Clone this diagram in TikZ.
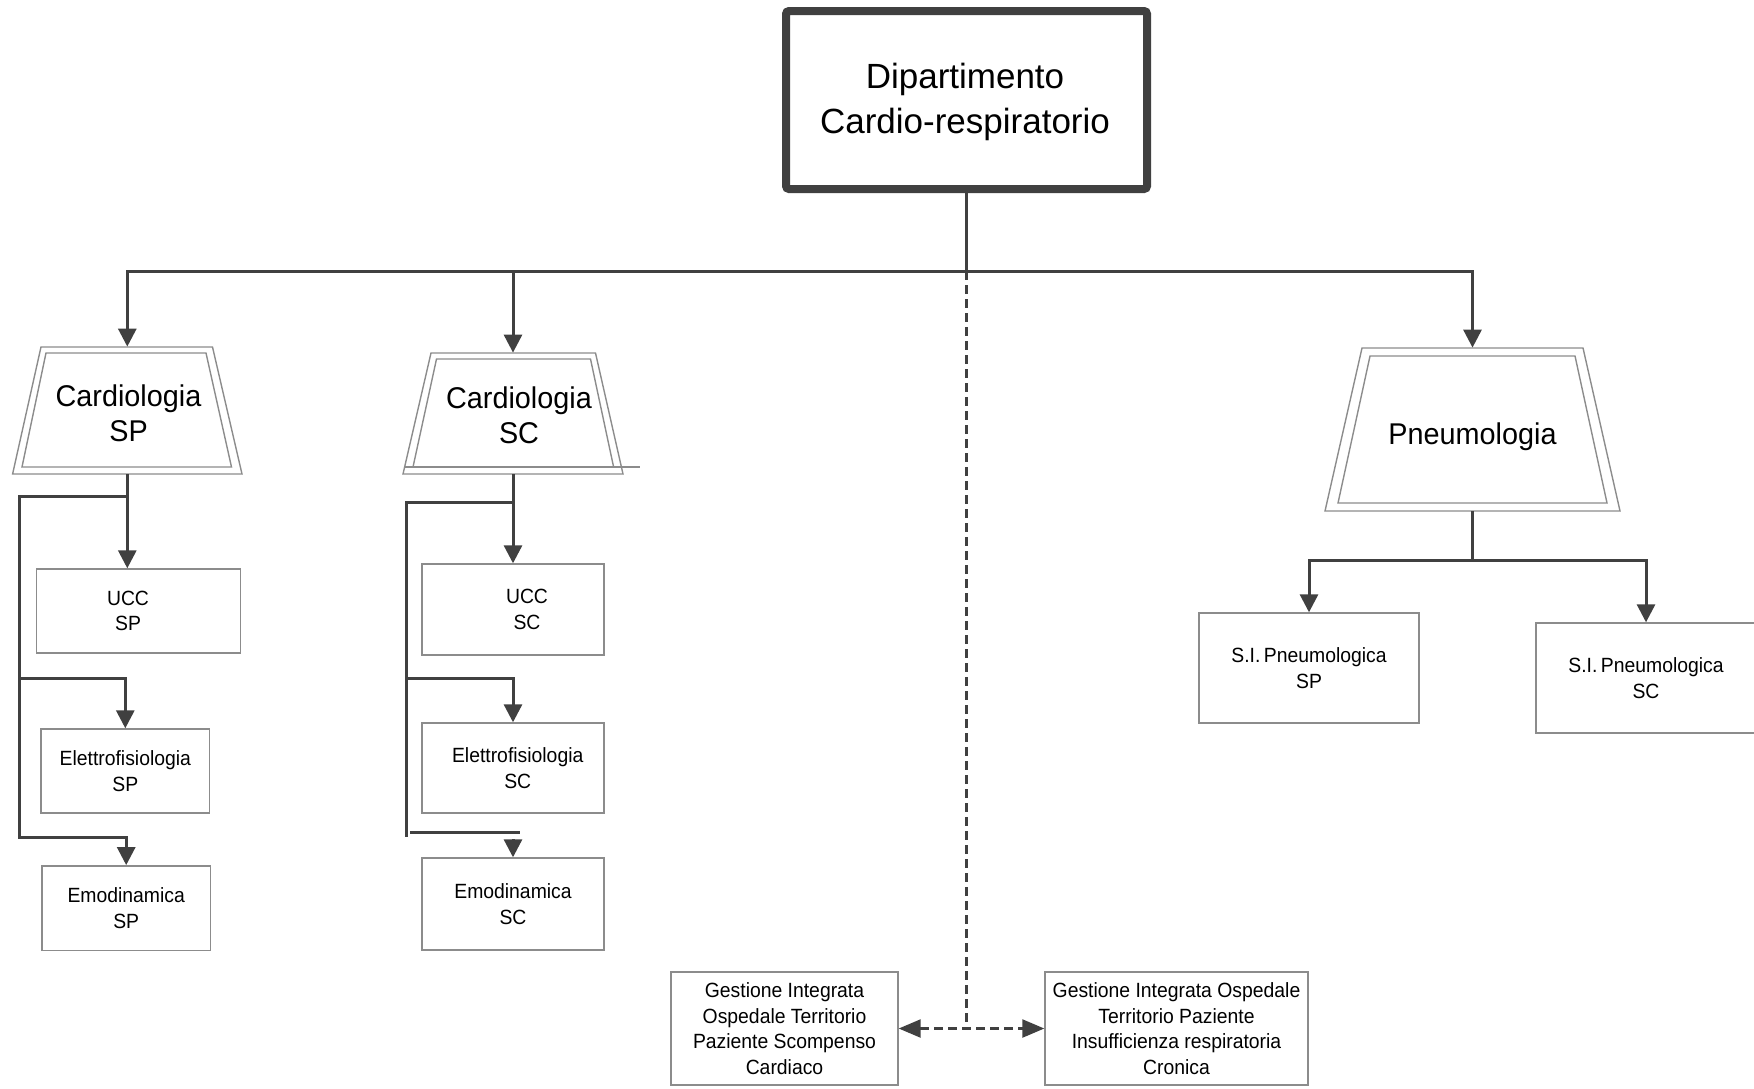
\documentclass[tikz,border=0pt]{standalone}
\usepackage{fontspec}
\setmainfont{Liberation Sans}
\newfontfamily\smallfont[FakeStretch=0.94]{Liberation Sans}
\newfontfamily\trapfont[FakeStretch=0.96]{Liberation Sans}
\usetikzlibrary{arrows.meta}
\definecolor{lineC}{HTML}{404040}
\definecolor{boxC}{HTML}{8C8C8C}
\begin{document}
\begin{tikzpicture}[x=0.5pt,y=-0.5pt,
  conn/.style={draw=lineC, line width=1.5pt},
  arr/.style={conn, -{Triangle[length=9pt,width=9pt]}},
  dline/.style={draw=lineC, line width=1.2pt, dash pattern=on 4.5pt off 2.5pt},
  darr/.style={dline, {Triangle[length=11pt,width=9pt]}-{Triangle[length=11pt,width=9pt]}},
  box/.style={draw=boxC, line width=0.7pt, inner sep=0pt, align=center,
    font=\smallfont\fontsize{10.3pt}{12.85pt}\selectfont},
  txt/.style={inner sep=0pt, align=center, font=\smallfont\fontsize{10.3pt}{12.85pt}\selectfont},
  trap/.style={draw=boxC, line width=0.7pt},
  trapanchor/.style={inner sep=0pt},
  traptxt/.style={inner sep=0pt, align=center, font=\trapfont\fontsize{15pt}{17.5pt}\selectfont},
  mainbox/.style={draw=lineC, line width=4pt, rounded corners=1.5pt, inner sep=0pt},
  maintxt/.style={inner sep=0pt, align=center, font=\fontsize{17.5pt}{22.5pt}\selectfont}
]
\useasboundingbox (0,0) rectangle (1754,1088);

% top box
\node[mainbox, minimum width=180.5pt, minimum height=89pt] (dept) at (966.5,100) {};
\node[maintxt] (deptT) at (965,102) {Dipartimento\\Cardio-respiratorio};

% trapezoids
\draw[trap] (41,347) -- (212.5,347) -- (242,474) -- (12.6,474) -- cycle;
\draw[trap] (46,353) -- (206,353) -- (231.5,467) -- (22,467) -- cycle;
\node[trapanchor, minimum width=114.7pt, minimum height=63.5pt] (cardsp) at (127.3,410.5) {};
\node[traptxt] (cardspT) at (128.5,413.5) {Cardiologia\\SP};

\draw[trap] (431,353) -- (595.5,353) -- (623,474) -- (403,474) -- cycle;
\draw[trap] (413,467) -- (436.5,359) -- (590.5,359) -- (613.6,467);
\draw[trap] (405,467) -- (640,467);
\node[trapanchor, minimum width=110pt, minimum height=60.5pt] (cardsc) at (513,413.5) {};
\node[traptxt] (cardscT) at (519,415) {Cardiologia\\SC};

\draw[trap] (1362,348) -- (1583,348) -- (1620,511) -- (1325,511) -- cycle;
\draw[trap] (1370,356) -- (1575,356) -- (1607,503) -- (1338,503) -- cycle;
\node[trapanchor, minimum width=147.5pt, minimum height=81.5pt] (pneu) at (1472.5,429.5) {};
\node[traptxt] (pneuT) at (1472.5,436.5) {Pneumologia};

% boxes
\node[box, minimum width=102pt, minimum height=42pt] (uccsp) at (138.5,611) {};
\node[txt] (uccspT) at (128,611) {UCC\\SP};
\node[box, minimum width=84.3pt, minimum height=42pt] (elsp) at (125.3,771) {Elettrofisiologia\\SP};
\node[box, minimum width=84.2pt, minimum height=42.2pt] (emodsp) at (126.2,908) {Emodinamica\\SP};

\node[box, minimum width=91pt, minimum height=45.5pt] (uccsc) at (513,609.5) {};
\node[txt] (uccscT) at (527,609.5) {UCC\\SC};
\node[box, minimum width=91pt, minimum height=45pt] (elsc) at (513,768) {};
\node[txt] (elscT) at (517.7,768) {Elettrofisiologia\\SC};
\node[box, minimum width=91pt, minimum height=46pt] (emodsc) at (513,904) {Emodinamica\\SC};

\node[box, minimum width=110pt, minimum height=55pt] (sisp) at (1309,668) {S.I.\,Pneumologica\\SP};
\node[box, minimum width=110pt, minimum height=55pt] (sisc) at (1646,678) {S.I.\,Pneumologica\\SC};

\node[box, minimum width=113.5pt, minimum height=56.5pt] (bl) at (784.5,1028.5) {Gestione Integrata\\Ospedale Territorio\\Paziente Scompenso\\Cardiaco};
\node[box, minimum width=131.5pt, minimum height=56.5pt] (br) at (1176.5,1028.5) {Gestione Integrata Ospedale\\Territorio Paziente\\Insufficienza respiratoria\\Cronica};

% top connectors
\coordinate (j) at (966.5,271);
\draw[conn] (dept.south) -- (j);
\draw[arr] (j) -| (cardsp.north);
\draw[arr] (cardsc.north |- j) -- (cardsc.north);
\draw[arr] (j) -| (pneu.north);
\draw[dline] (j) -- (j |- bl.east);
\draw[darr] (bl.east) -- (br.west);

% Cardiologia SP children
\coordinate (spb) at (127.3,496);
\coordinate (spl) at (19,496);
\coordinate (spm) at (19,678);
\draw[arr] (cardsp.south) -- (cardsp.south |- uccsp.north);
\draw[arr] (spb) -- (spl) -- (19,837) -| (emodsp.north);
\draw[arr] (spm) -| (elsp.north);

% Cardiologia SC children
\coordinate (scb) at (513,502);
\coordinate (scm) at (406,678);
\coordinate (sce) at (513,839);
\draw[arr] (cardsc.south) -- (cardsc.south |- uccsc.north);
\draw[conn] (scb) -- (406,502) -- (406,837);
\draw[arr] (scm) -| (elsc.north);
\draw[conn] (410,832) -- (520,832);
\draw[arr] (sce) -- (emodsc.north);

% Pneumologia children
\coordinate (pj) at (1472.5,560);
\draw[conn] (pneu.south) -- (pj);
\draw[arr] (pj) -| (sisp.north);
\draw[arr] (pj) -| (sisc.north);
\end{tikzpicture}
\end{document}
